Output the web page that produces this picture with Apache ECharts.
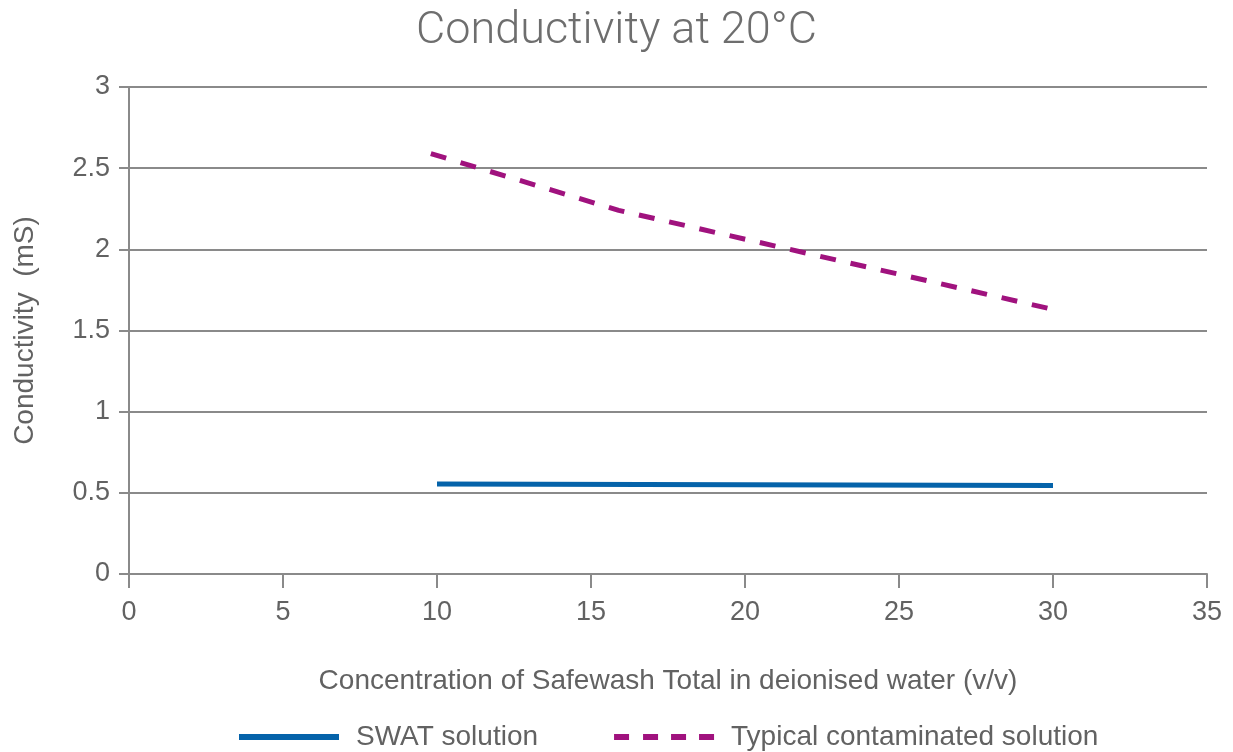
<!DOCTYPE html>
<html>
<head>
<meta charset="utf-8">
<script src="https://cdn.jsdelivr.net/npm/echarts@6/dist/echarts.min.js"></script>
<style>
html,body{margin:0;padding:0;background:#fff;}
#chart{width:1233px;height:752px;}
</style>
</head>
<body>
<div id="chart"></div>
<script>
const titleText = 'Conductivity at 20°C';
const xAxisName = 'Concentration of Safewash Total in deionised water (v/v)';
const yAxisName = 'Conductivity  (mS)';
const seriesNames = ['SWAT solution', 'Typical contaminated solution'];
const swatX = [10, 20, 30];
const swatY = [0.555, 0.55, 0.545];
const contamX = [9.8, 15.9, 30];
const contamY = [2.59, 2.24, 1.63];
const xTicks = [0, 5, 10, 15, 20, 25, 30, 35];
const yTicks = [0, 0.5, 1, 1.5, 2, 2.5, 3];

const FONT = 'Liberation Sans';
const TXT = '#626262';
const AX = '#8a8a8a';

const chart = echarts.init(document.getElementById('chart'), null, {renderer: 'canvas'});
chart.setOption({
  animation: false,
  backgroundColor: '#fff',
  title: {
    text: titleText,
    left: 'center',
    top: 4,
    textStyle: {fontFamily: 'Roboto', fontWeight: 300, fontSize: 45, color: '#6e6e6e'}
  },
  legend: {
    top: 723,
    left: 239,
    padding: 0,
    itemWidth: 100,
    itemHeight: 6,
    itemGap: 76,
    textStyle: {fontFamily: FONT, fontSize: 28, color: TXT, padding: [0, 0, 0, 12]},
    data: [
      {name: seriesNames[0], icon: 'path://M0,0 L100,0 L100,6 L0,6 Z', itemStyle: {color: '#0563aa'}},
      {name: seriesNames[1], icon: 'path://M0,0 L15,0 L15,6 L0,6 Z M29,0 L44,0 L44,6 L29,6 Z M57,0 L72,0 L72,6 L57,6 Z M85,0 L100,0 L100,6 L85,6 Z', itemStyle: {color: '#a0127e'}}
    ]
  },
  grid: {left: 129, right: 26, top: 87, bottom: 178, containLabel: false},
  xAxis: {
    type: 'value',
    min: 0, max: 35, interval: 5,
    name: xAxisName,
    nameLocation: 'middle',
    nameGap: 93,
    nameTextStyle: {fontFamily: FONT, fontSize: 28, color: TXT},
    axisLine: {show: true, lineStyle: {color: AX, width: 2}},
    axisTick: {show: true, inside: false, length: 14, lineStyle: {color: AX, width: 2}},
    axisLabel: {fontFamily: FONT, fontSize: 27, color: TXT, margin: 25,
      customValues: xTicks},
    splitLine: {show: false}
  },
  yAxis: {
    type: 'value',
    min: 0, max: 3, interval: 0.5,
    name: yAxisName,
    nameLocation: 'middle',
    nameGap: 90,
    nameRotate: 90,
    nameTextStyle: {fontFamily: FONT, fontSize: 28, color: TXT},
    axisLine: {show: true, lineStyle: {color: AX, width: 2}},
    axisTick: {show: true, length: 10, lineStyle: {color: AX, width: 2}},
    axisLabel: {fontFamily: FONT, fontSize: 27, color: TXT, margin: 19,
      customValues: yTicks},
    splitLine: {show: true, lineStyle: {color: AX, width: 2}}
  },
  series: [
    {
      name: seriesNames[0], type: 'line', showSymbol: false, symbol: 'none',
      data: swatX.map((x, i) => [x, swatY[i]]),
      lineStyle: {color: '#0563aa', width: 5},
      itemStyle: {color: '#0563aa'}
    },
    {
      name: seriesNames[1], type: 'line', showSymbol: false, symbol: 'none',
      data: contamX.map((x, i) => [x, contamY[i]]),
      lineStyle: {color: '#a0127e', width: 5, type: [16, 15]},
      itemStyle: {color: '#a0127e'}
    }
  ]
});
</script>
</body>
</html>
